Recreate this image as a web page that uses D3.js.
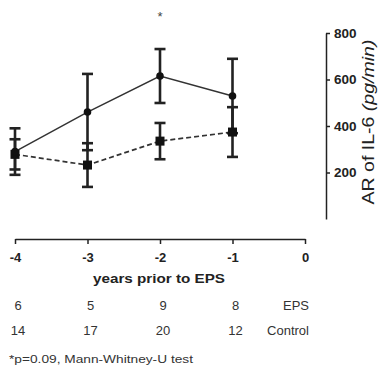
<!DOCTYPE html>
<html><head><meta charset="utf-8">
<script src="https://cdn.jsdelivr.net/npm/d3@7"></script>
<style>body{margin:0;background:#fff}svg{display:block}text{font-family:"Liberation Sans",Arial,sans-serif}</style>
</head><body><svg id="c" width="387" height="373"></svg>
<script>
const years = [-4, -3, -2, -1];
const xTicks = [-4, -3, -2, -1, 0];
const yTicks = [200, 400, 600, 800];
const epsMean = [290, 460, 615, 529];
const epsErr = [100, 164, 116, 160];
const ctrlMean = [278, 232, 335, 374];
const ctrlErr = [65, 94, 78, 107];
const epsN = [6, 5, 9, 8];
const ctrlN = [14, 17, 20, 12];
const sigMark = [-2];

const svg = d3.select("#c");
const x = d3.scaleLinear().domain([-4, 0]).range([15, 305]);
const y = d3.scaleLinear().domain([0, 800]).range([219, 33]);
const ink = "#222";

// x axis
const gx = svg.append("g").attr("transform", "translate(0,239)")
  .call(d3.axisBottom(x).tickValues(xTicks).tickFormat(d => String(d)).tickSize(5).tickSizeOuter(0));
gx.select(".domain").attr("stroke", ink).attr("stroke-width", 1.5);
gx.selectAll(".tick line").attr("stroke", ink).attr("stroke-width", 1.5);
gx.selectAll(".tick text").attr("font-size", 13).attr("font-weight", "bold").attr("fill", ink)
  .attr("y", 23).attr("dy", 0);

svg.append("text").attr("x", x(-2) - 1).attr("y", 283).attr("text-anchor", "middle")
  .attr("font-size", 13.5).attr("font-weight", "bold").attr("fill", ink)
  .attr("textLength", 132).attr("lengthAdjust", "spacingAndGlyphs").text("years prior to EPS");

// y axis
const gy = svg.append("g").attr("transform", "translate(326,0)")
  .call(d3.axisRight(y).tickValues(yTicks).tickSize(4).tickSizeOuter(0));
gy.select(".domain").attr("stroke", ink).attr("stroke-width", 1.5);
gy.selectAll(".tick line").attr("stroke", ink).attr("stroke-width", 1.5);
gy.selectAll(".tick text").attr("font-size", 13.5).attr("fill", ink).attr("x", 8)
  .attr("font-weight", "bold").attr("dy", "0.3em");

const yt = svg.append("text").attr("transform", "translate(374,122) rotate(-90)")
  .attr("text-anchor", "middle").attr("font-size", 16.5).attr("fill", ink)
  .attr("textLength", 165).attr("lengthAdjust", "spacingAndGlyphs");
yt.append("tspan").text("AR of IL-6 ");
yt.append("tspan").attr("font-style", "italic").text("(pg/min)");

// lines
const line = (m) => d3.line().x((d, i) => x(years[i])).y(d => y(d))(m);
svg.append("path").attr("d", line(ctrlMean)).attr("fill", "none").attr("stroke", "#333")
  .attr("stroke-width", 1.7).attr("stroke-dasharray", "5,3");
svg.append("path").attr("d", line(epsMean)).attr("fill", "none").attr("stroke", "#333").attr("stroke-width", 1.5);

function errBars(mean, err) {
  const g = svg.append("g").attr("stroke", ink).attr("stroke-width", 2.6);
  mean.forEach((m, i) => {
    const cx = x(years[i]);
    g.append("line").attr("x1", cx).attr("x2", cx).attr("y1", y(m - err[i])).attr("y2", y(m + err[i]));
    [m - err[i], m + err[i]].forEach(v => {
      g.append("line").attr("x1", cx - 5.5).attr("x2", cx + 5.5).attr("y1", y(v)).attr("y2", y(v));
    });
  });
}
errBars(ctrlMean, ctrlErr);
errBars(epsMean, epsErr);

svg.append("g").selectAll("rect").data(ctrlMean).join("rect")
  .attr("x", (d, i) => x(years[i]) - 4.5).attr("y", d => y(d) - 4.5).attr("width", 9).attr("height", 9).attr("fill", "#111");
svg.append("g").selectAll("circle").data(epsMean).join("circle")
  .attr("cx", (d, i) => x(years[i])).attr("cy", d => y(d)).attr("r", 3.8).attr("fill", "#111");

// significance
svg.selectAll(".sig").data(sigMark).join("text").attr("class", "sig")
  .attr("x", d => x(d)).attr("y", 21).attr("text-anchor", "middle").attr("font-size", 13).attr("fill", "#444").text("*");

// counts
const rows = [{n: epsN, label: "EPS", yy: 310}, {n: ctrlN, label: "Control", yy: 335}];
rows.forEach(r => {
  svg.append("g").selectAll("text").data(r.n).join("text")
    .attr("x", (d, i) => x(years[i]) + 3)
    .attr("y", r.yy).attr("text-anchor", "middle").attr("font-size", 13).attr("fill", "#333").text(d => d);
  svg.append("text").attr("x", 309).attr("y", r.yy).attr("text-anchor", "end")
    .attr("font-size", 13).attr("fill", "#333").text(r.label);
});

svg.append("text").attr("x", 9).attr("y", 363).attr("font-size", 10.5).attr("fill", "#333")
  .attr("textLength", 184).attr("lengthAdjust", "spacingAndGlyphs")
  .text("*p=0.09, Mann-Whitney-U test");
</script></body></html>
